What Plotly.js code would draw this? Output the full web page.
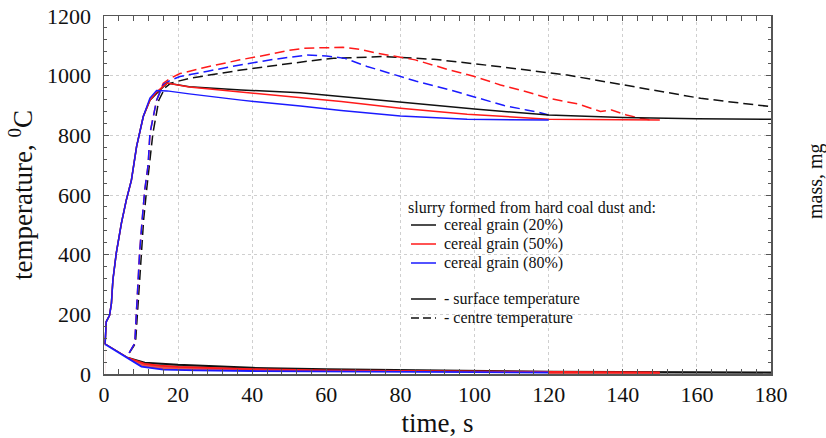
<!DOCTYPE html>
<html>
<head>
<meta charset="utf-8">
<script src="https://cdn.plot.ly/plotly-3.0.1.min.js"></script>
<style>html,body{margin:0;padding:0;background:#fff;}#chart{width:826px;height:438px;}</style>
</head>
<body>
<div id="chart"></div>
<script>
// ---- Data ----
// surface temperature, °C
const blackSurfT = [0.3, 0.6, 1.5, 2, 2.4, 3.3, 4.7, 6, 7.4, 8.8, 10.6, 12.4, 14.2, 17, 23, 37, 53, 64, 80, 100, 120, 140, 160, 180];
const blackSurf  = [100, 175, 197, 237, 315, 404, 506, 582, 650, 763, 863, 918, 940, 975, 963, 952, 943, 930, 913, 888, 868, 860, 856, 854];
const redSurfT   = [0.3, 0.6, 1.5, 2, 2.4, 3.3, 4.7, 6, 7.4, 8.8, 10.6, 12.4, 14.2, 17, 23, 37, 53, 64, 80, 98, 120, 135, 150];
const redSurf    = [100, 175, 197, 237, 315, 404, 506, 582, 650, 763, 863, 918, 945, 975, 962, 945, 924, 913, 891, 871, 854, 852, 851];
const blueSurfT  = [0.3, 0.6, 1.5, 2, 2.4, 3.3, 4.7, 6, 7.4, 8.8, 10.6, 12.4, 14.2, 17, 23, 37, 53, 64, 80, 98, 120];
const blueSurf   = [100, 175, 197, 237, 315, 404, 506, 582, 650, 763, 863, 925, 950, 949, 939, 918, 898, 883, 865, 854, 851];

// centre temperature, °C
const blackCentT = [0.3, 3, 4.2, 6.1, 8.5, 9.0, 9.5, 10.0, 10.7, 11.5, 12.3, 13.2, 14.8, 16.5, 18, 20, 23, 37, 53, 59, 62, 75, 89, 107, 125, 143, 161, 180];
const blackCent  = [25, 25, 41, 56, 103, 204, 315, 405, 517, 617, 700, 807, 918, 960, 975, 982, 991, 1019, 1047, 1055, 1058, 1064, 1055, 1030, 1002, 963, 924, 896];
const redCentT   = [0.3, 3, 4.2, 6.1, 8.3, 8.7, 9.2, 9.6, 10.3, 11, 11.9, 12.4, 14.2, 16, 18, 20.5, 28, 36.7, 45, 50, 54, 60, 64.5, 69, 73.5, 84, 93, 100, 107, 114, 120, 128, 134, 137, 141, 145, 148];
const redCent    = [25, 25, 41, 56, 103, 204, 315, 405, 517, 617, 700, 807, 918, 975, 992, 1007, 1030, 1053, 1072, 1085, 1092, 1095, 1095, 1088, 1076, 1053, 1020, 997, 969, 946, 924, 905, 880, 885, 868, 857, 851];
const blueCentT  = [0.3, 3, 4.2, 6.1, 8.3, 8.7, 9.2, 9.6, 10.3, 11, 11.9, 12.4, 14.2, 16, 18, 20.5, 28, 36.7, 46, 54.7, 60, 65, 71, 78, 84.3, 93.4, 102.3, 108, 114, 117, 120];
const blueCent   = [25, 25, 41, 56, 103, 204, 315, 405, 517, 617, 700, 807, 918, 970, 985, 997, 1015, 1036, 1055, 1069, 1066, 1058, 1031, 1005, 981, 952, 919, 900, 885, 878, 868];

// mass, mg
const blackMassT = [0.3, 6.1, 11, 15, 20, 30, 40, 60, 80, 100, 120, 140, 160, 180];
const blackMass  = [100, 56, 38, 34, 31, 26, 21, 16, 13, 10, 8, 7, 6, 5];
const redMassT   = [0.3, 6.1, 11, 15, 20, 30, 40, 60, 80, 100, 120, 132, 150];
const redMass    = [100, 56, 34, 28, 24, 19, 16, 12, 10, 8, 7, 6, 5];
const blueMassT  = [0.3, 6.1, 10.1, 16, 25, 40, 60, 80, 100, 120];
const blueMass   = [100, 56, 25, 15, 12, 10, 8, 7, 6, 5];

const seriesNames = ['cereal grain (20%)', 'cereal grain (50%)', 'cereal grain (80%)'];
const styleNames = ['- surface temperature', '- centre temperature'];
const legendTitle = 'slurry formed from hard coal dust and:';

// ---- Styles ----
const FONT = 'Liberation Serif, Times New Roman, serif';
const colors = ['#111111', '#ff1a1a', '#1a1aff'];
const massFill = ['rgba(60,60,60,0.55)', 'rgba(255,60,60,0.75)', 'rgba(255,255,255,1)'];
const dashPat = '10px,5px';
const lw = 1.5;

// plot-area geometry in pixels (for placing the legend box)
const M = {l: 104, r: 55, t: 16, b: 64};
const W = 826, H = 438;
const PW = W - M.l - M.r, PH = H - M.t - M.b;
const px = v => (v - M.l) / PW;
const py = v => (H - M.b - v) / PH;

const surf = [[blackSurfT, blackSurf], [redSurfT, redSurf], [blueSurfT, blueSurf]];
const cent = [[blackCentT, blackCent], [redCentT, redCent], [blueCentT, blueCent]];
const mass = [[blackMassT, blackMass], [redMassT, redMass], [blueMassT, blueMass]];

const traces = [];
for (let i = 0; i < 3; i++) {
  traces.push({
    x: mass[i][0], y: mass[i][1], yaxis: 'y2', mode: 'lines', showlegend: false,
    fill: 'tozeroy', fillcolor: massFill[i],
    line: {color: colors[i], width: 1.8}, hoverinfo: 'skip'
  });
}
for (let i = 0; i < 3; i++) {
  traces.push({
    x: cent[i][0], y: cent[i][1], mode: 'lines', showlegend: false,
    line: {color: colors[i], width: lw, dash: dashPat}
  });
}
for (let i = 0; i < 3; i++) {
  traces.push({
    x: surf[i][0], y: surf[i][1], mode: 'lines', name: seriesNames[i], showlegend: false,
    line: {color: colors[i], width: lw}
  });
}

// ---- hand-built legend (key lines + labels) ----
const shapes = [{
  type: 'rect', xref: 'paper', yref: 'paper', layer: 'between',
  x0: px(395), x1: px(667), y0: py(332), y1: py(194),
  fillcolor: '#ffffff', line: {width: 0}
}];
const annotations = [];
const legFont = {family: FONT, size: 16, color: '#111'};
annotations.push({text: legendTitle, xref: 'paper', yref: 'paper', x: px(406), y: py(208),
  xanchor: 'left', yanchor: 'middle', showarrow: false, font: legFont});
const keyRows = [
  {y: 225, name: seriesNames[0], color: colors[0], dash: 'solid'},
  {y: 244, name: seriesNames[1], color: colors[1], dash: 'solid'},
  {y: 263, name: seriesNames[2], color: colors[2], dash: 'solid'},
  {y: 299, name: styleNames[0], color: colors[0], dash: 'solid'},
  {y: 318, name: styleNames[1], color: colors[0], dash: '8px,4px'}
];
keyRows.forEach(r => {
  shapes.push({type: 'line', xref: 'paper', yref: 'paper', layer: 'above',
    x0: px(411), x1: px(436), y0: py(r.y), y1: py(r.y),
    line: {color: r.color, width: lw, dash: r.dash}});
  annotations.push({text: r.name, xref: 'paper', yref: 'paper', x: px(442), y: py(r.y),
    xanchor: 'left', yanchor: 'middle', showarrow: false, font: legFont});
});
annotations.push({
  text: 'mass, mg', xref: 'paper', yref: 'paper', x: px(815), y: py(181),
  xanchor: 'center', yanchor: 'middle', textangle: -90, showarrow: false,
  font: {family: FONT, size: 20, color: '#111'}
});

const axisCommon = {
  showgrid: true, gridcolor: '#cfcfcf', griddash: 'dot', gridwidth: 1,
  zeroline: false, showline: true, linecolor: '#555', linewidth: 1.5,
  mirror: 'allticks', ticks: 'inside', ticklen: 5, tickcolor: '#555', tickwidth: 1,
  tickfont: {family: FONT, size: 22, color: '#111'}
};

const layout = {
  width: W, height: H,
  margin: M,
  paper_bgcolor: '#fff', plot_bgcolor: '#fff',
  font: {family: FONT, color: '#111'},
  showlegend: false,
  xaxis: Object.assign({}, axisCommon, {
    range: [0, 180], tick0: 0, dtick: 20, ticklabelstandoff: 0,
    minor: {dtick: 4, ticks: 'inside', ticklen: 3, tickcolor: '#555', showgrid: false},
    title: {text: 'time, s', font: {family: FONT, size: 27}, standoff: 8}
  }),
  yaxis: Object.assign({}, axisCommon, {
    range: [0, 1200], tick0: 0, dtick: 200, ticklabelstandoff: 7,
    minor: {dtick: 40, ticks: 'inside', ticklen: 3, tickcolor: '#555', showgrid: false},
    title: {text: 'temperature, <sup>0</sup>C', font: {family: FONT, size: 27}, standoff: 6}
  }),
  yaxis2: {
    overlaying: 'y', side: 'right', range: [0, 1200],
    showgrid: false, zeroline: false, showline: false, ticks: '', showticklabels: false
  },
  shapes: shapes,
  annotations: annotations
};

Plotly.newPlot('chart', traces, layout, {staticPlot: true, displayModeBar: false});
</script>
</body>
</html>
